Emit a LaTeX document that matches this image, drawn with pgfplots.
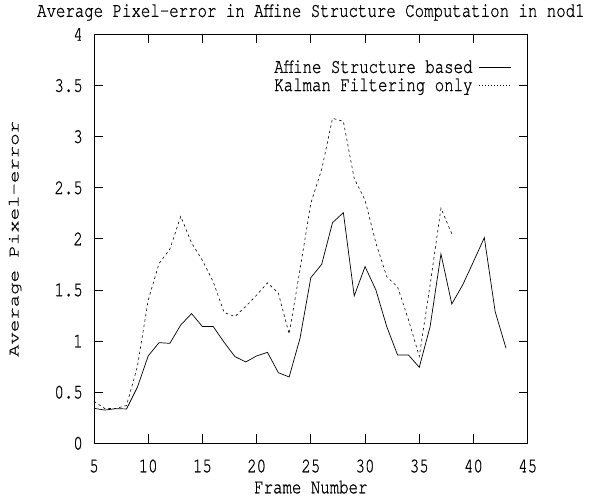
\documentclass[border=0pt]{standalone}
\usepackage{fontspec}
\usepackage{pgfplots}
\pgfplotsset{compat=1.18}
\setmainfont{texgyrecursor}[Extension=.otf, UprightFont=*-regular, FakeStretch=0.76, FakeBold=0.8]
\newfontfamily\yfont{texgyrecursor}[Extension=.otf, UprightFont=*-regular, FakeStretch=1.316, FakeBold=0.8]
\newcommand{\hf}{\fontsize{20.7}{24}\selectfont}
\begin{document}
\begin{tikzpicture}
\begin{axis}[
  name=ax,
  scale only axis,
  width=433.7pt, height=408.8pt,
  xmin=5, xmax=45, ymin=0, ymax=4,
  xtick={5,10,...,45},
  ytick={0,0.5,...,4},
  tick align=inside,
  major tick length=9pt,
  axis line style={line width=0.9pt},
  tick style={line width=0.8pt, black},
  /pgf/number format/assume math mode=true,
  xticklabel={\pgfmathprintnumber[assume math mode=true]{\tick}},
  yticklabel={\pgfmathprintnumber[assume math mode=true]{\tick}},
  ticklabel style={font=\hf},
  yticklabel style={inner sep=0pt, xshift=-11pt},
  xticklabel style={inner sep=0pt, anchor=base, yshift=-29pt},
  title={Average Pixel-error in Affine Structure Computation in nod1},
  title style={font=\hf, at={(axis description cs:0.5,1.0285)}, anchor=base, inner sep=0pt},
  xlabel={Frame Number},
  xlabel style={font=\hf, at={(axis description cs:0.5,-0.1223)}, anchor=base, inner sep=0pt},
  ylabel={Average Pixel-error},
  ylabel style={font=\yfont\fontsize{15.73}{18}\selectfont, at={(axis description cs:-0.1741,0.5)}, anchor=base, inner sep=0pt, rotate=0},
  legend style={draw=none, fill=none, font=\hf, at={(axis description cs:0.9705,0.946)}, anchor=north east, row sep=1pt, column sep=5pt, nodes={inner sep=1.5pt}},
  legend cell align=right,
  legend plot pos=right,
  legend image code/.code={\draw[#1] plot coordinates {(0pt,0pt) (32pt,0pt)};},
]
\addplot[black, line width=0.7pt] coordinates {
(5,0.342) (6,0.325) (7,0.339) (8,0.336) (9,0.548) (10,0.855) (11,0.985) (12,0.978)
(13,1.158) (14,1.269) (15,1.142) (16,1.142) (17,0.988) (18,0.848) (19,0.796) (20,0.855)
(21,0.890) (22,0.691) (23,0.649) (24,1.027) (25,1.621) (26,1.751) (27,2.159) (28,2.257)
(29,1.442) (30,1.729) (31,1.500) (32,1.142) (33,0.864) (34,0.864) (35,0.744) (36,1.142)
(37,1.853) (38,1.363) (39,1.549) (40,1.778) (41,2.012) (42,1.288) (43,0.930)
};
\addlegendentry{Affine Structure based}
\addplot[black, line width=0.6pt, dash pattern=on 2.5pt off 3pt,
  legend image code/.code={\draw[black, line width=0.6pt, dash pattern=on 1pt off 2pt] plot coordinates {(0pt,0pt) (32pt,0pt)};}] coordinates {
(5,0.41) (6,0.34) (7,0.34) (8,0.37) (9,0.75) (10,1.40) (11,1.76) (12,1.90)
(13,2.22) (14,1.96) (15,1.79) (16,1.58) (17,1.28) (18,1.24) (19,1.34) (20,1.45)
(21,1.57) (22,1.47) (23,1.07) (24,1.70) (25,2.35) (26,2.68) (27,3.18) (28,3.15)
(29,2.59) (30,2.38) (31,1.96) (32,1.63) (33,1.53) (34,1.21) (35,0.85) (36,1.55)
(37,2.30) (38,2.05)
};
\addlegendentry{Kalman Filtering only}
\end{axis}
\path (ax.south west) ++(-94pt,-58.7pt) rectangle ++(595pt,502pt);
\end{tikzpicture}
\end{document}
